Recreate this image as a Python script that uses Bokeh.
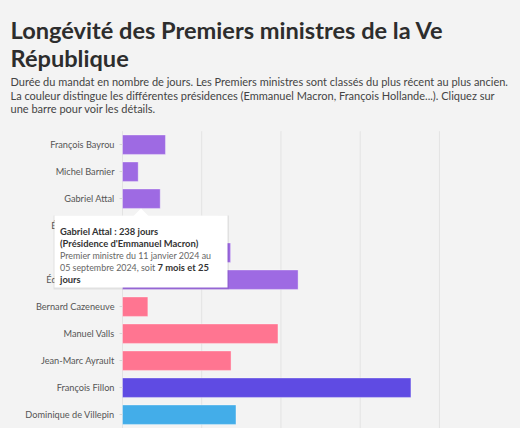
from bokeh.plotting import figure
from bokeh.models import (Range1d, Label, BoxAnnotation, PolyAnnotation, LinearAxis,
                          FixedTicker, ColumnDataSource, GlobalInlineStyleSheet)
from bokeh.embed import file_html
from bokeh.resources import INLINE

# ---- data ----
names = ["François Bayrou", "Michel Barnier", "Gabriel Attal", "Élisabeth Borne",
         "Jean Castex", "Édouard Philippe", "Bernard Cazeneuve", "Manuel Valls",
         "Jean-Marc Ayrault", "François Fillon", "Dominique de Villepin"]
days = [271, 99, 238, 603, 682, 1108, 160, 981, 685, 1820, 716]
presidencies = ["Macron", "Macron", "Macron", "Macron", "Macron", "Macron",
                "Hollande", "Hollande", "Hollande", "Sarkozy", "Chirac"]
presidency_colors = {"Macron": "#9e6ae3", "Hollande": "#ff7591",
                     "Sarkozy": "#5f4be3", "Chirac": "#43ade9"}
grid_ticks = [0, 500, 1000, 1500, 2000]

title_lines = ["Longévité des Premiers ministres de la Ve", "République"]
subtitle_lines = [
    "Durée du mandat en nombre de jours. Les Premiers ministres sont classés du plus récent au plus ancien.",
    "La couleur distingue les différentes présidences (Emmanuel Macron, François Hollande...). Cliquez sur",
    "une barre pour voir les détails.",
]
tip_bold_1 = "Gabriel Attal : 238 jours"
tip_bold_2 = "(Présidence d'Emmanuel Macron)"
tip_norm_3 = "Premier ministre du 11 janvier 2024 au"
tip_norm_4 = "05 septembre 2024, soit "
tip_bold_4 = "7 mois et 25"
tip_bold_5 = "jours"

BG = "#f3f3f3"
FONT = "Lato"

W, H = 520, 428
X0 = 122          # page x of 0 days
DPP = 6.31        # days per pixel
ROW = 27.0        # pixels per row
Y0 = 144.2        # page y of first row centre

rows = list(range(len(names)))
src = ColumnDataSource(dict(row=rows, days=days,
                            color=[presidency_colors[k] for k in presidencies]))

p = figure(width=W, height=H,
           x_range=Range1d(-X0 * DPP, (W - X0) * DPP),
           y_range=Range1d((H - Y0) / ROW, -Y0 / ROW),
           x_axis_location=None, y_axis_location=None,
           output_backend="svg", toolbar_location=None,
           min_border=0, min_border_left=0, min_border_right=0,
           min_border_top=0, min_border_bottom=0,
           background_fill_color=BG, border_fill_color=BG, outline_line_color=None)
p.stylesheets = [GlobalInlineStyleSheet(css="html, body { background: #f3f3f3; }")]
p.xgrid.visible = False
p.ygrid.visible = False

# vertical grid lines (only in chart area)
gsrc = ColumnDataSource(dict(t=grid_ticks))
p.segment(x0="t", x1="t", y0=-0.5, y1=(H - Y0) / ROW + 1, source=gsrc,
          line_color="#e3e3e3", line_width=1)

p.hbar(y="row", right="days", left=0, height=0.72, source=src,
       fill_color="color", line_color="white", line_alpha=0.35, line_width=1)

ax = LinearAxis(ticker=FixedTicker(ticks=rows),
                major_label_overrides={r: n for r, n in zip(rows, names)},
                fixed_location=0)
ax.axis_line_color = None
ax.major_tick_line_color = "#d6d6d6"
ax.major_tick_out = 3
ax.major_tick_in = 0
ax.minor_tick_line_color = None
ax.major_label_standoff = 5
ax.major_label_text_font = FONT
ax.major_label_text_font_size = "9.2px"
ax.major_label_text_color = "#555555"
p.add_layout(ax, "left")


def lab(text, px, py, size, color, bold=False, level="annotation"):
    p.add_layout(Label(x=px, y=H - py, x_units="screen", y_units="screen",
                       text=text, text_font=FONT, text_font_size=f"{size}px",
                       text_color=color, text_font_style="bold" if bold else "normal",
                       text_baseline="alphabetic", text_align="left", level=level))


# title + subtitle
lab(title_lines[0], 10, 29, 23.6, "#2d2d2d", bold=True)
lab(title_lines[1], 10, 57, 23.6, "#2d2d2d", bold=True)
for i, t in enumerate(subtitle_lines):
    lab(t, 10, 81.3 + i * 13.5, 11, "#444444")


# tooltip
def sbox(l, r, t, b, **kw):
    p.add_layout(BoxAnnotation(left=l, right=r, top=H - t, bottom=H - b,
                               left_units="screen", right_units="screen",
                               top_units="screen", bottom_units="screen",
                               level="overlay", **kw))


sbox(53, 228.5, 215, 289, fill_color="black", fill_alpha=0.07, line_color=None)
sbox(54, 227, 215, 287, fill_color="white", fill_alpha=1, line_color=None)
p.add_layout(PolyAnnotation(xs=[133, 148, 140.5],
                            ys=[H - 215.5, H - 215.5, H - 208],
                            xs_units="screen", ys_units="screen",
                            fill_color="white", fill_alpha=1, line_color=None,
                            level="overlay"))

TB, TN = 9.4, 8.9
lab(tip_bold_1, 59.5, 230.5, TB, "#333333", bold=True, level="overlay")
lab(tip_bold_2, 59.5, 242.5, TB, "#333333", bold=True, level="overlay")
lab(tip_norm_3, 59.5, 254.5, TN, "#666666", level="overlay")
lab(tip_norm_4, 59.5, 266.5, TN, "#666666", level="overlay")
lab(tip_bold_4, 157.0, 266.5, TB, "#333333", bold=True, level="overlay")
lab(tip_bold_5, 59.5, 278.5, TB, "#333333", bold=True, level="overlay")

open("out.html", "w").write(file_html(p, INLINE))
